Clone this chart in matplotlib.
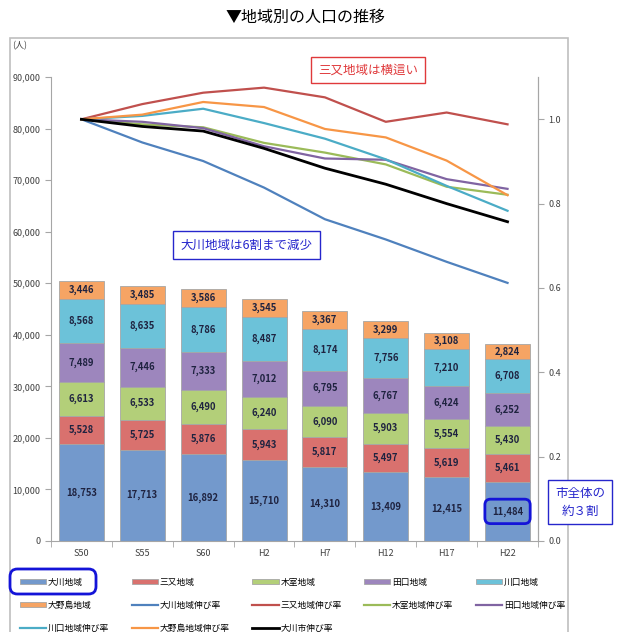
import matplotlib
matplotlib.use("Agg")
import matplotlib.pyplot as plt
from matplotlib.patches import Rectangle, FancyBboxPatch, Patch
from matplotlib.lines import Line2D
from matplotlib.ticker import FuncFormatter, FixedLocator

plt.rcParams['font.family'] = ['Noto Sans CJK JP', 'DejaVu Sans']

# data
years = ['S50', 'S55', 'S60', 'H2', 'H7', 'H12', 'H17', 'H22']
okawa = [18753, 17713, 16892, 15710, 14310, 13409, 12415, 11484]
mimata = [5528, 5725, 5876, 5943, 5817, 5497, 5619, 5461]
kimuro = [6613, 6533, 6490, 6240, 6090, 5903, 5554, 5430]
taguchi = [7489, 7446, 7333, 7012, 6795, 6767, 6424, 6252]
kawaguchi = [8568, 8635, 8786, 8487, 8174, 7756, 7210, 6708]
onojima = [3446, 3485, 3586, 3545, 3367, 3299, 3108, 2824]

rate_okawa = [1.0, 0.945, 0.901, 0.838, 0.763, 0.715, 0.662, 0.612]
rate_mimata = [1.0, 1.036, 1.063, 1.075, 1.052, 0.994, 1.016, 0.988]
rate_kimuro = [1.0, 0.988, 0.981, 0.944, 0.921, 0.893, 0.840, 0.821]
rate_taguchi = [1.0, 0.994, 0.979, 0.936, 0.907, 0.904, 0.858, 0.835]
rate_kawaguchi = [1.0, 1.008, 1.025, 0.991, 0.954, 0.905, 0.842, 0.783]
rate_onojima = [1.0, 1.011, 1.041, 1.029, 0.977, 0.957, 0.902, 0.820]
rate_city = [1.0, 0.983, 0.972, 0.931, 0.884, 0.846, 0.800, 0.757]

bar_series = [
    ('大川地域', okawa, '#7399CC'),
    ('三又地域', mimata, '#D9716E'),
    ('木室地域', kimuro, '#B3CF79'),
    ('田口地域', taguchi, '#9D86BD'),
    ('川口地域', kawaguchi, '#6CC2D9'),
    ('大野島地域', onojima, '#F6A464'),
]
line_series = [
    ('大川地域伸び率', rate_okawa, '#4F81BD', 1.6),
    ('三又地域伸び率', rate_mimata, '#C0504D', 1.6),
    ('木室地域伸び率', rate_kimuro, '#9BBB59', 1.6),
    ('田口地域伸び率', rate_taguchi, '#8064A2', 1.6),
    ('川口地域伸び率', rate_kawaguchi, '#4BACC6', 1.6),
    ('大野島地域伸び率', rate_onojima, '#F79646', 1.6),
    ('大川市伸び率', rate_city, '#000000', 2.0),
]

fig = plt.figure(figsize=(6.18, 6.32), dpi=100)
ax = fig.add_axes([0.0825, 0.144, 0.788, 0.734])

# outer frame
fig.patches.append(Rectangle((10 / 618, -0.05), 558 / 618, 1.05 - 38 / 632,
                             transform=fig.transFigure, fill=False,
                             edgecolor='#BFBFBF', lw=1.2))

fig.text(0.495, 0.972, '▼地域別の人口の推移', ha='center', va='center',
         fontsize=11.5, fontweight='normal')
fig.text(0.02, 0.928, '(人)', ha='left', va='center', fontsize=6.5, color='#404040')

x = list(range(len(years)))
bottom = [0] * len(years)
handles = []
for name, vals, col in bar_series:
    bars = ax.bar(x, vals, width=0.74, bottom=bottom, color=col,
                  edgecolor='#A6A6A6', linewidth=0.6, zorder=2)
    labels = [f'{v:,}' for v in vals]
    txts = ax.bar_label(bars, labels=labels, label_type='center', fontsize=6.8,
                        fontweight='bold', color='#1F2340')
    if name == '大川地域':
        txts[-1].set_bbox(dict(boxstyle='round,pad=0.75,rounding_size=0.6',
                               facecolor='none', edgecolor='#1414D8', lw=2))
    bottom = [b + v for b, v in zip(bottom, vals)]
    handles.append(Patch(facecolor=col, edgecolor='#A6A6A6', linewidth=0.6, label=name))

ax.set_xlim(-0.5, len(years) - 0.5)
ax.set_ylim(0, 90000)
ax.set_yticks(range(0, 90001, 10000))
ax.yaxis.set_major_formatter(FuncFormatter(lambda v, p: f'{int(v):,}'))
ax.set_xticks(x)
ax.set_xticklabels(years)
ax.xaxis.set_minor_locator(FixedLocator([i - 0.5 for i in range(len(years) + 1)]))
ax.tick_params(axis='x', which='major', length=0, pad=6, labelsize=6.5, labelcolor='#404040')
ax.tick_params(axis='x', which='minor', length=4, color='#A6A6A6')
ax.tick_params(axis='y', length=4, color='#A6A6A6', labelsize=6.5, labelcolor='#404040')
ax.spines['top'].set_visible(False)
for s in ['left', 'bottom', 'right']:
    ax.spines[s].set_color('#A6A6A6')

ax2 = ax.twinx()
for name, vals, col, lw in line_series:
    ax2.plot(x, vals, color=col, lw=lw, zorder=3)
    handles.append(Line2D([], [], color=col, lw=lw, label=name))
ax2.set_ylim(0, 1.1)
ax2.set_yticks([0.0, 0.2, 0.4, 0.6, 0.8, 1.0])
ax2.yaxis.set_major_formatter(FuncFormatter(lambda v, p: f'{v:.1f}'))
ax2.tick_params(axis='y', length=4, color='#A6A6A6', labelsize=6.5, labelcolor='#404040')
ax2.spines['top'].set_visible(False)
ax2.spines['right'].set_color('#A6A6A6')
ax2.spines['left'].set_visible(False)
ax2.spines['bottom'].set_visible(False)

# callouts
fig.text(368 / 618, 1 - 70 / 632, '三又地域は横這い', ha='center', va='center',
         fontsize=9, color='#E0393B',
         bbox=dict(boxstyle='square,pad=0.55', facecolor='white', edgecolor='#E0393B', lw=1))
fig.text(246 / 618, 1 - 245 / 632, '大川地域は6割まで減少', ha='center', va='center',
         fontsize=9, color='#2626CC',
         bbox=dict(boxstyle='square,pad=0.6', facecolor='white', edgecolor='#2626CC', lw=1))
fig.text(580 / 618, 1 - 502 / 632, '市全体の\n約３割', ha='center', va='center',
         fontsize=9, color='#2626CC', linespacing=1.5,
         bbox=dict(boxstyle='square,pad=0.55', facecolor='white', edgecolor='#2626CC', lw=1))

# legend: row-wise order, filled column-first
blank = Patch(facecolor='none', edgecolor='none', label='')
padded = handles + [blank, blank]
ncol = 5
nrow = 3
ordered = [padded[r * ncol + c] for c in range(ncol) for r in range(nrow)]
fig.legend(handles=ordered, labels=[h.get_label() for h in ordered],
           loc='upper left', bbox_to_anchor=(20 / 618, 1 - 584 / 632, 545 / 618, 0.01),
           ncol=ncol, mode='expand', frameon=False, fontsize=6.3,
           handlelength=3.0, handleheight=0.6, handletextpad=0.2,
           labelspacing=1.6, borderaxespad=0, borderpad=0)

fig.patches.append(FancyBboxPatch((10 / 618, 1 - 594 / 632), 86 / 618, 25 / 632,
                                  boxstyle='round,pad=0,rounding_size=0.012',
                                  transform=fig.transFigure, fill=False,
                                  edgecolor='#1414D8', lw=2))

fig.savefig('out.png', dpi=100)
